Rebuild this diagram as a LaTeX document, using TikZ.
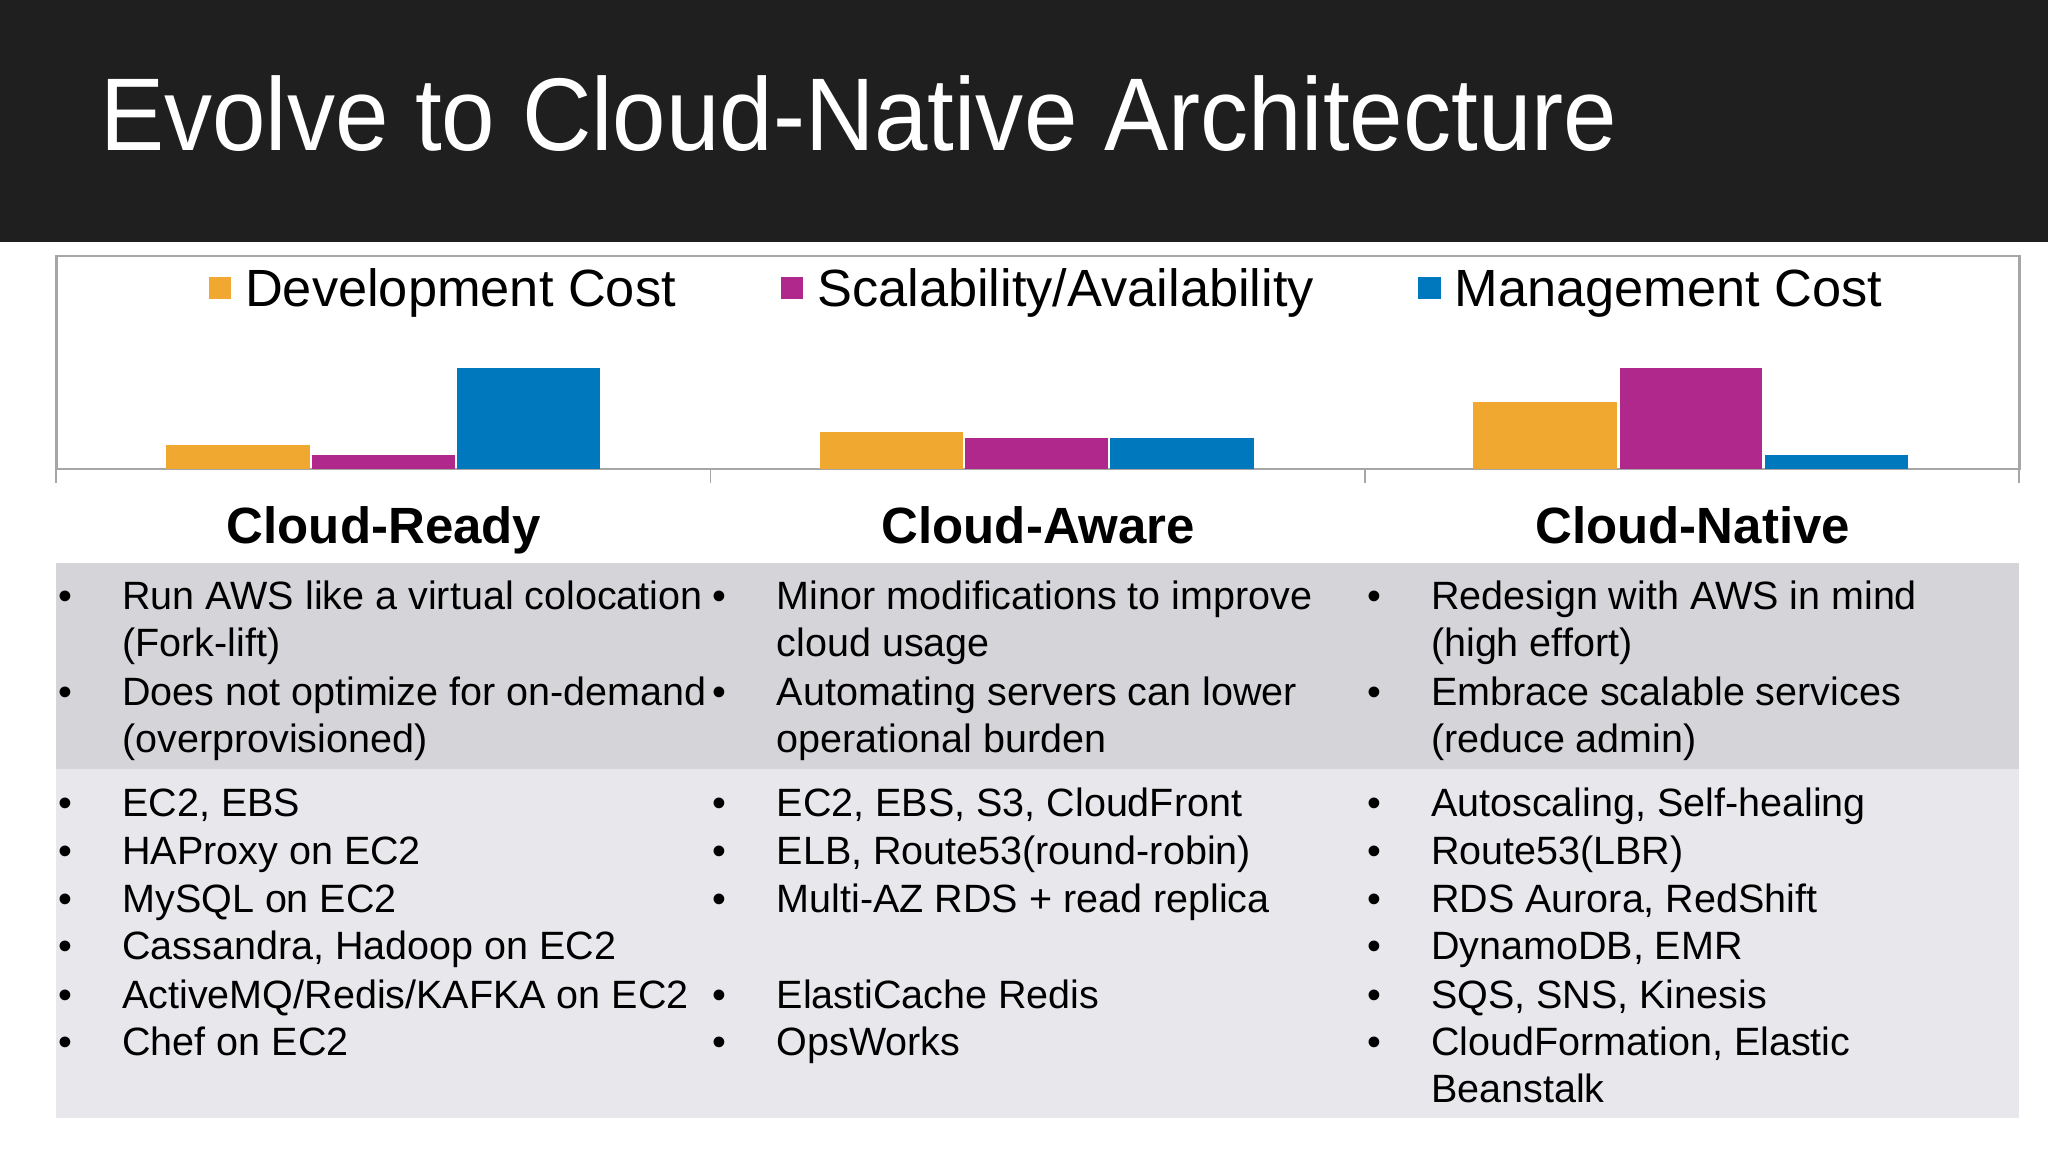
\documentclass[tikz,border=0pt]{standalone}
\usepackage{fontspec}
\setmainfont{Liberation Sans}
\definecolor{cor}{HTML}{F0A830}
\definecolor{cmag}{HTML}{B0288C}
\definecolor{cblu}{HTML}{0078BE}
\definecolor{bandA}{HTML}{D5D4D8}
\definecolor{bandB}{HTML}{E8E8EC}
\tikzset{
 body/.style={anchor=base west,inner sep=0pt,font=\fontsize{8.6}{10}\selectfont},
 head/.style={anchor=base,inner sep=0pt,font=\fontsize{11.1}{13}\selectfont\bfseries},
 leg/.style={anchor=base west,inner sep=0pt,font=\fontsize{11.4}{14}\selectfont},
}
\begin{document}
\begin{tikzpicture}[x=0.01cm,y=-0.01cm]
\useasboundingbox (0,0) rectangle (1568,882);
\fill[white] (0,0) rectangle (1568,882);
\fill[black!88] (0,0) rectangle (1568,185);
\node[anchor=base west,inner sep=0pt,text=white,font=\fontsize{22.5}{26}\selectfont,xscale=0.93] (title) at (76,115) {Evolve to Cloud-Native Architecture};
% chart
\draw[black!35,line width=0.6pt] (43,196) rectangle (1546,359);
\foreach \x in {43,544,1045,1546} \draw[black!35] (\x,359) -- (\x,370);
\fill[cor] (160,212) rectangle (177,229);
\node[leg] (l1) at (187,235) {Development Cost};
\fill[cmag] (598,212) rectangle (615,229);
\node[leg] (l2) at (625,235) {Scalability/Availability};
\fill[cblu] (1086,212) rectangle (1103,229);
\node[leg] (l3) at (1113,235) {Management Cost};
\fill[cor] (127,341) rectangle (237,359);
\fill[cmag] (239,348) rectangle (348,359);
\fill[cblu] (350,282) rectangle (459,359);
\fill[cor] (628,331) rectangle (737,359);
\fill[cmag] (739,335) rectangle (848,359);
\fill[cblu] (850,335) rectangle (960,359);
\fill[cor] (1128,308) rectangle (1238,359);
\fill[cmag] (1240,282) rectangle (1349,359);
\fill[cblu] (1351,348) rectangle (1461,359);
% headings
\node[head] (h1) at (294,416) {Cloud-Ready};
\node[head] (h2) at (795,416) {Cloud-Aware};
\node[head] (h3) at (1296,416) {Cloud-Native};
% bands
\fill[bandA] (43,431) rectangle (1546,589);
\fill[bandB] (43,589) rectangle (1546,856);
% column 1
\foreach \y/\b/\t in {467/1/{Run AWS like a virtual colocation},503/0/{(Fork-lift)},540/1/{Does not optimize for on-demand},576/0/{(overprovisioned)},
 625/1/{EC2, EBS},662/1/{HAProxy on EC2},699/1/{MySQL on EC2},735/1/{Cassandra, Hadoop on EC2},772/1/{ActiveMQ/Redis/KAFKA on EC2},808/1/{Chef on EC2}}{
 \node[body] at (93,\y) {\t};
 \ifnum\b=1 \node[body] at (44,\y) {•};\fi}
\foreach \y/\b/\t in {467/1/{Minor modifications to improve},503/0/{cloud usage},540/1/{Automating servers can lower},576/0/{operational burden},
 625/1/{EC2, EBS, S3, CloudFront},662/1/{ELB, Route53(round-robin)},699/1/{Multi-AZ RDS + read replica},772/1/{ElastiCache Redis},808/1/{OpsWorks}}{
 \node[body] at (594,\y) {\t};
 \ifnum\b=1 \node[body] at (545,\y) {•};\fi}
\foreach \y/\b/\t in {467/1/{Redesign with AWS in mind},503/0/{(high effort)},540/1/{Embrace scalable services},576/0/{(reduce admin)},
 625/1/{Autoscaling, Self-healing},662/1/{Route53(LBR)},699/1/{RDS Aurora, RedShift},735/1/{DynamoDB, EMR},772/1/{SQS, SNS, Kinesis},808/1/{CloudFormation, Elastic},844/0/{Beanstalk}}{
 \node[body] at (1095,\y) {\t};
 \ifnum\b=1 \node[body] at (1046,\y) {•};\fi}
\end{tikzpicture}
\end{document}
